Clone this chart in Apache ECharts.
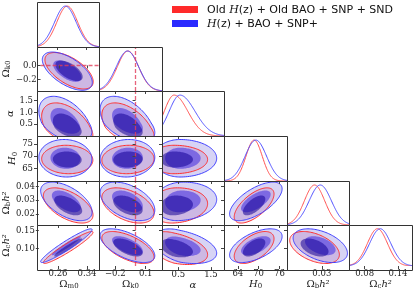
<!DOCTYPE html>
<html><head><meta charset="utf-8">
<script src="https://cdn.jsdelivr.net/npm/echarts@6/dist/echarts.min.js"></script>
<style>html,body{margin:0;padding:0;background:#fff}#c{width:415px;height:291px}</style>
</head><body><div id="c"></div>
<script>
// ---- data ----
const paramLabels = ['{g|Ω}{s|m0}', '{g|Ω}{s|k0}', '{i|α}', '{i|H}{s|0}', '{g|Ω}{s|b}{i|h²}', '{g|Ω}{s|c}{i|h²}'];
const axisMin = [0.207, -0.36, 0.0, 60.0, 0.0118, 0.052];
const axisMax = [0.373, 0.26, 1.9, 78.2, 0.0442, 0.165];
const xTickVals = [[0.26, 0.34], [-0.2, 0.1], [0.5, 1.5], [64, 70, 76], [0.03], [0.08, 0.14]];
const xTickText = [['0.26', '0.34'], ['−0.2', '0.1'], ['0.5', '1.5'], ['64', '70', '76'], ['0.03'], ['0.08', '0.14']];
const yTickVals = [[], [-0.2, 0.0], [0.5, 1.0, 1.5], [65, 70, 75], [0.02, 0.03, 0.04], [0.10, 0.15]];
const yTickText = [[], ['−0.2', '0.0'], ['0.5', '1.0', '1.5'], ['65', '70', '75'], ['0.02', '0.03', '0.04'], ['0.10', '0.15']];

// "Old H(z) + Old BAO + SNP + SND" (red)
const meanOld = [0.288, -0.075, 0.37, 68.7, 0.0262, 0.103];
const sigLoOld = [0.028, 0.105, 0.30, 2.35, 0.0053, 0.018];
const sigHiOld = [0.028, 0.105, 0.42, 2.35, 0.0053, 0.018];
// "H(z) + BAO + SNP+" (blue)
const meanNew = [0.283, -0.080, 0.55, 69.2, 0.0292, 0.108];
const sigLoNew = [0.029, 0.110, 0.33, 3.1, 0.0058, 0.019];
const sigHiNew = [0.029, 0.110, 0.46, 3.1, 0.0058, 0.019];
// correlations, pairs (row,col): (1,0)(2,0)(2,1)(3,0)(3,1)(3,2)(4,0)(4,1)(4,2)(4,3)(5,0)(5,1)(5,2)(5,3)(5,4)
const rhoOld = [-0.6, -0.45, -0.5, -0.05, 0.05, 0.0, -0.55, -0.45, 0.1, 0.65, 0.95, -0.6, -0.4, 0.55, -0.45];
const rhoNew = [-0.6, -0.45, -0.5, -0.05, 0.05, 0.0, -0.55, -0.45, 0.1, 0.65, 0.95, -0.6, -0.4, 0.55, -0.45];
const chi2Levels = [5.99, 1.9]; // outer and inner 2D contour levels
const refOk0 = 0.0; // dashed reference line for Omega_k0
const legendNames = ['Old {m|H}(z) + Old BAO + SNP + SND', '{m|H}(z) + BAO + SNP+'];

// ---- layout / style ----
const colX = [37, 99, 162, 224, 287, 349, 412];
const rowY = [2, 47, 91, 136, 181, 225, 270];
const dsOld = {mean: meanOld, lo: sigLoOld, hi: sigHiOld, rho: rhoOld,
  fill2: 'rgba(150,30,130,0.15)', fill1: 'rgba(20,0,150,0.55)', line: '#ff3030', line1d: '#ff5050'};
const dsNew = {mean: meanNew, lo: sigLoNew, hi: sigHiNew, rho: rhoNew,
  fill2: 'rgba(55,40,205,0.2)', fill1: 'rgba(60,40,225,0.55)', line: '#4040ff', line1d: '#5050ff'};
const N = 120;
const serif = 'DejaVu Serif';
const nameRich = {
  g: {fontFamily: serif, fontSize: 10, color: '#222'},
  i: {fontFamily: serif, fontSize: 10, fontStyle: 'italic', color: '#222'},
  s: {fontFamily: serif, fontSize: 7, color: '#222', verticalAlign: 'bottom', padding: [5, 0, 0, 0]}
};

function pairIndex(r, c) { return r * (r - 1) / 2 + c; }
function contourPts(api, r, c, ds, chi2) {
  const rad = Math.sqrt(chi2), rho = ds.rho[pairIndex(r, c)];
  const q = Math.sqrt(1 - rho * rho), pts = [];
  for (let k = 0; k <= N; k++) {
    const t = 2 * Math.PI * k / N, u = rad * Math.cos(t), v = rad * Math.sin(t);
    const a = u, b = rho * u + q * v;
    const x = ds.mean[c] + a * (a > 0 ? ds.hi[c] : ds.lo[c]);
    const y = ds.mean[r] + b * (b > 0 ? ds.hi[r] : ds.lo[r]);
    pts.push(api.coord([x, y]));
  }
  return pts;
}
function densityPts(api, p, ds) {
  const pts = [];
  for (let k = 0; k <= N; k++) {
    const x = axisMin[p] + (axisMax[p] - axisMin[p]) * k / N;
    const d = x - ds.mean[p], s = d > 0 ? ds.hi[p] : ds.lo[p];
    pts.push(api.coord([x, Math.exp(-0.5 * (d / s) * (d / s))]));
  }
  return pts;
}
function fmt(vals, texts) {
  return function (v) {
    for (let i = 0; i < vals.length; i++) if (Math.abs(vals[i] - v) < 1e-9) return texts[i];
    return '';
  };
}

const grids = [], xAxes = [], yAxes = [], series = [], graphics = [];
let gi = 0;
for (let r = 0; r < 6; r++) {
  for (let c = 0; c <= r; c++) {
    const w = colX[c + 1] - colX[c], h = rowY[r + 1] - rowY[r];
    grids.push({left: colX[c], top: rowY[r], width: w, height: h, show: false});
    graphics.push({type: 'rect', shape: {x: colX[c] + 0.5, y: rowY[r] + 0.5, width: w, height: h},
      style: {fill: null, stroke: '#333', lineWidth: 1}, z: 100, silent: true});
    const bottom = r === 5;
    xAxes.push({gridIndex: gi, type: 'value', min: axisMin[c], max: axisMax[c], z: 50,
      axisLine: {show: false}, splitLine: {show: false},
      axisTick: {show: true, customValues: xTickVals[c], length: 3, lineStyle: {color: '#444'}},
      axisLabel: {show: bottom, customValues: xTickVals[c], formatter: fmt(xTickVals[c], xTickText[c]),
        fontFamily: serif, fontSize: 8.5, color: '#222', margin: 3},
      name: bottom ? paramLabels[c] : '', nameLocation: 'middle', nameGap: 12,
      nameTextStyle: {rich: nameRich}});
    if (r === c) {
      yAxes.push({gridIndex: gi, type: 'value', min: 0, max: 1.1, show: true,
        axisLine: {show: false}, splitLine: {show: false}, axisTick: {show: false}, axisLabel: {show: false}});
    } else {
      const left = c === 0;
      yAxes.push({gridIndex: gi, type: 'value', min: axisMin[r], max: axisMax[r], z: 50,
        axisLine: {show: false}, splitLine: {show: false},
        axisTick: {show: true, customValues: yTickVals[r], length: 3, lineStyle: {color: '#444'}},
        axisLabel: {show: left, customValues: yTickVals[r], formatter: fmt(yTickVals[r], yTickText[r]),
          fontFamily: serif, fontSize: 8.5, color: '#222', margin: 4},
        name: left ? paramLabels[r] : '', nameLocation: 'middle', nameGap: 18, nameRotate: 90,
        nameTextStyle: {rich: nameRich}});
    }
    if (r === c) {
      const p = r;
      series.push({type: 'custom', xAxisIndex: gi, yAxisIndex: gi, clip: true, z: 3, silent: true,
        data: [[meanNew[p], 1]],
        renderItem: function (params, api) {
          return {type: 'group', children: [dsOld, dsNew].map(ds => ({
            type: 'polyline', shape: {points: densityPts(api, p, ds)},
            style: {stroke: ds.line1d, lineWidth: 1, fill: null}}))};
        }});
    } else {
      const rr = r, cc = c;
      series.push({type: 'custom', xAxisIndex: gi, yAxisIndex: gi, clip: true, z: 3, silent: true,
        data: [[meanNew[cc], meanNew[rr]]],
        renderItem: function (params, api) {
          const o2 = contourPts(api, rr, cc, dsOld, chi2Levels[0]);
          const n2 = contourPts(api, rr, cc, dsNew, chi2Levels[0]);
          const o1 = contourPts(api, rr, cc, dsOld, chi2Levels[1]);
          const n1 = contourPts(api, rr, cc, dsNew, chi2Levels[1]);
          return {type: 'group', children: [
            {type: 'polygon', shape: {points: n2}, style: {fill: dsNew.fill2}},
            {type: 'polygon', shape: {points: o2}, style: {fill: dsOld.fill2}},
            {type: 'polygon', shape: {points: n1}, style: {fill: dsNew.fill1}},
            {type: 'polygon', shape: {points: o1}, style: {fill: dsOld.fill1}},
            {type: 'polyline', shape: {points: o2}, style: {stroke: dsOld.line, lineWidth: 1, fill: null}},
            {type: 'polyline', shape: {points: n2}, style: {stroke: dsNew.line, lineWidth: 1, fill: null}}
          ]};
        }});
    }
    // dashed reference line for Omega_k0
    if (c === 1 || (r === 1 && c === 0)) {
      const ml = c === 1 ? {xAxis: refOk0} : {yAxis: refOk0};
      series.push({type: 'line', xAxisIndex: gi, yAxisIndex: gi, data: [], z: 6, silent: true,
        markLine: {symbol: 'none', silent: true, label: {show: false},
          lineStyle: {color: 'rgba(225,60,90,0.8)', type: [4, 2], width: 1.3}, data: [ml]}});
    }
    gi++;
  }
}

// legend
const legColors = ['#ff2a2a', '#2a2aff'];
for (let i = 0; i < 2; i++) {
  graphics.push({type: 'rect', shape: {x: 172, y: 6 + i * 14, width: 26, height: 7},
    style: {fill: legColors[i]}, z: 100});
  graphics.push({type: 'text', x: 207, y: 10 + i * 14, z: 100,
    style: {text: legendNames[i], verticalAlign: 'middle', fontFamily: 'DejaVu Sans', fontSize: 11, fill: '#111',
      rich: {m: {fontFamily: serif, fontStyle: 'italic', fontSize: 11, fill: '#111'}}}});
}

const chart = echarts.init(document.getElementById('c'), null, {renderer: 'canvas'});
chart.setOption({animation: false, backgroundColor: '#fff', grid: grids, xAxis: xAxes, yAxis: yAxes,
  series: series, graphic: graphics});
</script></body></html>
